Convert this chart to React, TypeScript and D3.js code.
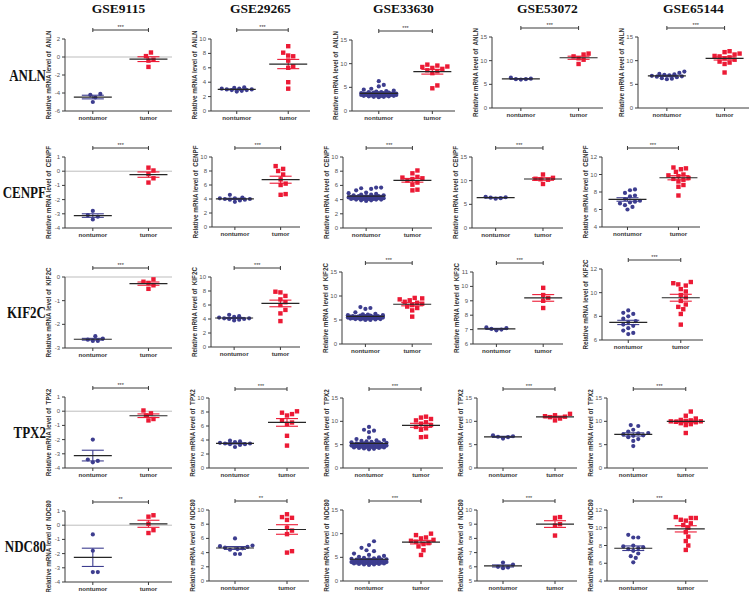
import * as d3 from 'd3';

const DATASETS = ['GSE9115', 'GSE29265', 'GSE33630', 'GSE53072', 'GSE65144'];
const GENES = ['ANLN', 'CENPF', 'KIF2C', 'TPX2', 'NDC80'];
const GROUPS = ['nontumor', 'tumor'];

// y-axis ticks, one list per dataset column, one row per gene
const ANLN_TICKS = [[-6, -4, -2, 0, 2], [0, 2, 4, 6, 8, 10], [0, 5, 10, 15], [0, 5, 10, 15], [0, 5, 10, 15]];
const CENPF_TICKS = [[-4, -3, -2, -1, 0, 1], [0, 2, 4, 6, 8, 10], [0, 2, 4, 6, 8, 10], [0, 5, 10, 15], [4, 6, 8, 10, 12]];
const KIF2C_TICKS = [[-3, -2, -1, 0], [0, 2, 4, 6, 8, 10], [0, 5, 10, 15], [6, 7, 8, 9, 10, 11], [6, 8, 10, 12]];
const TPX2_TICKS = [[-4, -3, -2, -1, 0, 1], [0, 2, 4, 6, 8, 10], [0, 5, 10, 15], [0, 5, 10, 15], [0, 5, 10, 15]];
const NDC80_TICKS = [[-4, -3, -2, -1, 0, 1], [0, 2, 4, 6, 8, 10], [0, 5, 10, 15], [5, 6, 7, 8, 9, 10], [4, 6, 8, 10, 12]];

const SIGNIF = [
  ['***', '***', '***', '***', '***'],
  ['***', '***', '***', '***', '***'],
  ['***', '***', '***', '***', '***'],
  ['***', '***', '***', '***', '***'],
  ['**', '**', '***', '***', '***'],
];

const ANLN_NONTUMOR = [
  [-4.2, -4.1, -4.5, -5.0],
  [3.3, 3.2, 3.1, 3.1, 3.0, 3.0, 2.9, 2.9, 2.8, 2.7],
  [6.3, 5.5, 5.2, 4.7, 4.5, 4.3, 4.2, 4.1, 4.0, 4.0, 3.9, 3.9, 3.8, 3.8, 3.8, 3.7, 3.7, 3.7, 3.6, 3.6, 3.6, 3.6,
    3.5, 3.5, 3.5, 3.5, 3.4, 3.4, 3.4, 3.3, 3.3, 3.3, 3.2, 3.2, 3.2, 3.1, 3.1, 3.0, 3.0, 2.9, 3.6, 3.5, 3.4, 3.7],
  [6.0, 6.1, 6.1, 6.2, 6.4],
  [7.7, 7.4, 7.2, 7.1, 7.0, 6.9, 6.8, 6.7, 6.5, 6.3, 6.2, 6.1, 6.6],
];
const ANLN_TUMOR = [
  [0.5, 0.1, -0.3, -0.4, -1.1],
  [9.0, 8.1, 7.7, 7.6, 7.0, 6.2, 6.0, 4.0, 3.1],
  [9.8, 9.6, 9.4, 9.3, 9.1, 8.9, 8.6, 8.4, 8.0, 5.4, 4.8],
  [11.5, 11.3, 10.9, 10.5, 10.2, 9.3],
  [12.0, 11.8, 11.5, 11.3, 11.0, 10.9, 10.7, 10.5, 10.2, 9.8, 9.6, 9.3, 7.5],
];

const CENPF_NONTUMOR = [
  [-2.8, -3.1, -3.2, -3.4],
  [4.6, 4.2, 4.1, 4.0, 4.0, 3.9, 3.9, 3.8, 3.6, 4.1],
  [5.7, 5.7, 5.6, 5.5, 5.3, 5.0, 4.9, 4.8, 4.7, 4.7, 4.6, 4.6, 4.5, 4.5, 4.5, 4.4, 4.4, 4.4, 4.4, 4.3, 4.3,
    4.3, 4.3, 4.2, 4.2, 4.2, 4.2, 4.1, 4.1, 4.1, 4.0, 4.0, 4.0, 3.9, 3.9, 3.8, 4.3, 4.4, 4.2, 4.1],
  [6.2, 6.3, 6.4, 6.5, 6.6],
  [8.3, 8.2, 7.9, 7.6, 7.5, 7.2, 7.0, 6.9, 6.8, 6.7, 6.5, 6.3, 6.0],
];
const CENPF_TUMOR = [
  [0.25, 0.05, -0.2, -0.5, -0.8],
  [8.7, 8.3, 8.0, 7.5, 6.8, 6.2, 6.0, 4.7, 4.6],
  [8.1, 7.7, 7.2, 7.1, 7.0, 6.9, 6.7, 6.4, 6.1, 5.4, 5.3],
  [11.3, 10.6, 10.4, 10.3, 10.2, 9.3],
  [10.8, 10.7, 10.6, 10.3, 10.0, 9.9, 9.8, 9.6, 9.5, 9.4, 9.2, 8.8, 8.6, 7.6],
];

const KIF2C_NONTUMOR = [
  [-2.5, -2.6, -2.65, -2.7, -2.7],
  [4.6, 4.4, 4.3, 4.2, 4.1, 4.0, 4.0, 3.9, 3.8, 4.1],
  [7.7, 7.5, 7.3, 6.6, 6.3, 6.2, 6.1, 6.0, 6.0, 5.9, 5.9, 5.8, 5.8, 5.8, 5.7, 5.7, 5.7, 5.6, 5.6, 5.6, 5.6,
    5.5, 5.5, 5.5, 5.5, 5.4, 5.4, 5.4, 5.3, 5.3, 5.3, 5.2, 5.2, 5.1, 5.1, 5.0, 5.0, 5.6, 5.5, 5.4],
  [7.0, 7.05, 7.1, 7.15, 6.95],
  [8.5, 8.3, 8.2, 8.0, 7.8, 7.6, 7.5, 7.3, 7.2, 7.0, 6.8, 6.6, 6.5],
];
const KIF2C_TUMOR = [
  [-0.1, -0.2, -0.25, -0.35, -0.5],
  [7.9, 7.8, 7.3, 6.8, 6.4, 6.0, 5.3, 4.8, 3.7],
  [9.6, 9.5, 9.3, 9.1, 8.8, 8.6, 8.4, 8.1, 7.8, 7.5, 7.0, 5.7],
  [9.9, 9.4, 9.2, 9.0, 8.5],
  [10.9, 10.8, 10.7, 10.6, 10.3, 10.1, 9.8, 9.6, 9.3, 9.0, 8.8, 8.6, 8.2, 7.3],
];

const TPX2_NONTUMOR = [
  [-2.0, -3.4, -3.5, -3.6],
  [3.9, 3.8, 3.7, 3.6, 3.5, 3.5, 3.4, 3.4, 3.3, 3.0],
  [8.8, 8.2, 8.0, 7.7, 6.5, 6.2, 6.0, 5.9, 5.8, 5.7, 5.6, 5.5, 5.5, 5.4, 5.3, 5.3, 5.2, 5.2, 5.1, 5.1, 5.0,
    5.0, 5.0, 4.9, 4.9, 4.8, 4.8, 4.8, 4.7, 4.7, 4.6, 4.6, 4.5, 4.5, 4.4, 4.4, 4.3, 4.3, 4.2, 4.1, 4.0, 5.0,
    4.9, 4.6, 4.5],
  [6.3, 6.6, 6.7, 6.8, 7.0],
  [9.2, 9.0, 8.2, 7.8, 7.5, 7.4, 7.2, 7.0, 6.9, 6.6, 6.2, 5.8, 4.7],
];
const TPX2_TUMOR = [
  [0.05, -0.15, -0.3, -0.55, -0.65],
  [8.1, 7.9, 7.7, 7.5, 6.8, 6.5, 6.3, 4.6, 3.2],
  [11.0, 10.8, 10.5, 10.2, 9.8, 9.5, 9.2, 8.8, 8.5, 8.2, 6.7, 6.6],
  [11.6, 11.3, 11.1, 11.0, 10.9, 10.6, 10.2],
  [12.1, 11.2, 10.6, 10.3, 10.2, 10.1, 10.0, 10.0, 9.9, 9.8, 9.6, 9.4, 9.2, 7.5],
];

const NDC80_NONTUMOR = [
  [-0.65, -1.8, -3.3, -3.3],
  [6.0, 5.0, 4.9, 4.8, 4.7, 4.6, 4.5, 4.4, 3.8, 3.8],
  [8.4, 7.6, 7.0, 6.5, 6.3, 5.8, 5.5, 5.3, 5.1, 5.0, 4.9, 4.8, 4.7, 4.6, 4.6, 4.5, 4.5, 4.4, 4.4, 4.3, 4.3,
    4.2, 4.2, 4.1, 4.1, 4.0, 4.0, 3.9, 3.9, 3.8, 3.8, 3.8, 3.7, 3.7, 3.6, 3.6, 3.5, 3.5, 3.4, 4.2, 4.0, 3.9, 4.1],
  [6.3, 6.15, 6.0, 5.95, 5.9],
  [9.2, 8.9, 8.9, 8.0, 7.9, 7.8, 7.7, 7.6, 7.4, 7.1, 6.8, 6.6, 6.1],
];
const NDC80_TUMOR = [
  [0.7, 0.6, 0.1, -0.35, -0.55],
  [9.4, 9.0, 8.9, 8.6, 7.5, 7.1, 6.6, 4.2, 4.0],
  [10.0, 9.7, 9.2, 9.0, 8.7, 8.5, 8.3, 8.0, 7.8, 7.3, 6.5, 5.5],
  [9.5, 9.45, 9.0, 8.9, 8.2],
  [11.2, 11.1, 11.1, 10.9, 10.8, 10.5, 10.3, 10.0, 9.5, 9.0, 8.5, 8.0, 7.5],
];

const TICKS = [ANLN_TICKS, CENPF_TICKS, KIF2C_TICKS, TPX2_TICKS, NDC80_TICKS];
const NONTUMOR = [ANLN_NONTUMOR, CENPF_NONTUMOR, KIF2C_NONTUMOR, TPX2_NONTUMOR, NDC80_NONTUMOR];
const TUMOR = [ANLN_TUMOR, CENPF_TUMOR, KIF2C_TUMOR, TPX2_TUMOR, NDC80_TUMOR];

// panel frames: [axis x, plot width, plot top, plot height]
const LAYOUT = [
  [[65, 107, 39, 72], [211, 99, 39, 72], [352, 103, 40, 71], [492, 111, 37, 71], [638, 111, 37, 71]],
  [[65, 107, 157, 71], [212, 88, 157, 70], [343, 89, 157, 71], [472, 91, 157, 71], [602, 98, 157, 70]],
  [[65, 107, 277, 71], [211, 89, 277, 70], [342, 90, 272, 72], [473, 90, 272, 72], [602, 101, 269, 71]],
  [[65, 107, 397, 71], [209, 100, 398, 70], [343, 100, 398, 70], [477, 100, 398, 70], [607, 101, 398, 70]],
  [[65, 107, 511, 71], [209, 100, 510, 71], [343, 100, 510, 71], [477, 100, 510, 71], [607, 101, 510, 71]],
];

const BLUE = '#3d3d8f';
const RED = '#ec1a35';
const AXIS = '#3a3a3a';
const SANS = 'Liberation Sans, Arial, sans-serif';
const SERIF = 'Liberation Serif, Times New Roman, serif';

// beeswarm kept inside +-maxHalf: free slot nearest the centre, else the least crowded one
function swarm(vals: number[], cx: number, y: d3.ScaleLinear<number, number>) {
  const d = 5;
  const step = 2.5;
  const maxHalf = 19;
  const placed: { x: number; y: number }[] = [];
  const sorted = [...vals].sort((a, b) => a - b);
  const kMax = Math.floor(maxHalf / step);
  for (const v of sorted) {
    const py = y(v);
    let best = cx;
    let bestGap = -1;
    for (let i = 0; i <= kMax * 2; i++) {
      const k = Math.ceil(i / 2) * (i % 2 ? 1 : -1);
      const cand = cx + k * step;
      let gap = Infinity;
      for (const p of placed) gap = Math.min(gap, Math.hypot(p.x - cand, p.y - py));
      if (gap >= d) {
        best = cand;
        break;
      }
      if (gap > bestGap + 0.3) {
        bestGap = gap;
        best = cand;
      }
    }
    placed.push({ x: best, y: py });
  }
  return placed;
}

function Group({ vals, cx, y, color, square }: any) {
  const pts = swarm(vals, cx, y);
  const m = d3.mean(vals) as number;
  const sem = (d3.deviation(vals) as number) / Math.sqrt(vals.length);
  return (
    <g>
      {pts.map((p, i) =>
        square ? (
          <rect key={i} x={p.x - 2.2} y={p.y - 2.2} width={4.4} height={4.4} fill={color} />
        ) : (
          <circle key={i} cx={p.x} cy={p.y} r={2.1} fill={color} />
        )
      )}
      <g stroke={color} strokeWidth={1.1}>
        <line x1={cx} x2={cx} y1={y(m - sem)} y2={y(m + sem)} />
        <line x1={cx - 11} x2={cx + 11} y1={y(m - sem)} y2={y(m - sem)} />
        <line x1={cx - 11} x2={cx + 11} y1={y(m + sem)} y2={y(m + sem)} />
      </g>
      <line x1={cx - 19} x2={cx + 19} y1={y(m)} y2={y(m)} stroke="#262626" strokeWidth={1.2} />
    </g>
  );
}

function Panel({ r, c }: { r: number; c: number }) {
  const [x0, w, top, h] = LAYOUT[r][c];
  const ticks = TICKS[r][c];
  const y = d3.scaleLinear().domain([ticks[0], ticks[ticks.length - 1]]).range([top + h, top]);
  const x = d3.scalePoint().domain(GROUPS).range([x0 + 0.26 * w, x0 + 0.78 * w]);
  const xn = x('nontumor') as number;
  const xt = x('tumor') as number;
  const bottom = top + h;
  const by = top - 9;
  return (
    <g>
      {ticks[0] < 0 && <line x1={x0} x2={x0 + w} y1={y(0)} y2={y(0)} stroke="#bdbdbd" strokeWidth={1} />}
      <Group vals={NONTUMOR[r][c]} cx={xn} y={y} color={BLUE} square={false} />
      <Group vals={TUMOR[r][c]} cx={xt} y={y} color={RED} square={true} />
      {/* axes */}
      <g stroke={AXIS} strokeWidth={1}>
        <line x1={x0} x2={x0} y1={top} y2={bottom} />
        <line x1={x0} x2={x0 + w} y1={bottom} y2={bottom} />
        {ticks.map((t) => (
          <line key={t} x1={x0 - 3} x2={x0} y1={y(t)} y2={y(t)} />
        ))}
        {GROUPS.map((g) => (
          <line key={g} x1={x(g)} x2={x(g)} y1={bottom} y2={bottom + 3} />
        ))}
      </g>
      {ticks.map((t) => (
        <text key={t} x={x0 - 5} y={y(t) + 2} textAnchor="end" fontSize={6} fill="#555" fontFamily={SANS}>
          {t}
        </text>
      ))}
      {GROUPS.map((g) => (
        <text key={g} x={x(g)} y={bottom + 8.5} textAnchor="middle" fontSize={6.2} fontWeight="bold" fill="#333" fontFamily={SANS}>
          {g}
        </text>
      ))}
      <text
        transform={`translate(${x0 - 14},${top + h / 2}) rotate(-90)`}
        textAnchor="middle"
        fontSize={6.3}
        fontWeight="bold"
        fill="#333"
        fontFamily={SANS}
        style={{ whiteSpace: 'pre' }}
      >
        {`Relative mRNA level of  ${GENES[r]}`}
      </text>
      {/* significance bracket */}
      <g stroke={AXIS} strokeWidth={1}>
        <line x1={xn} x2={xt} y1={by} y2={by} />
        <line x1={xn} x2={xn} y1={by - 2} y2={by + 2} />
        <line x1={xt} x2={xt} y1={by - 2} y2={by + 2} />
      </g>
      <text x={(xn + xt) / 2} y={by - 1.5} textAnchor="middle" fontSize={5.5} fill="#333" fontFamily={SANS}>
        {SIGNIF[r][c]}
      </text>
    </g>
  );
}

export default function App() {
  return (
    <svg width={753} height={592} style={{ position: 'absolute', left: 0, top: 0, background: '#fff' }}>
      {DATASETS.map((ds, c) => {
        const [x0, w] = LAYOUT[0][c];
        return (
          <text key={ds} x={x0 + w / 2} y={13} textAnchor="middle" fontSize={13.5} fontWeight="bold" fontFamily={SERIF} fill="#111">
            {ds}
          </text>
        );
      })}
      {GENES.map((g, r) => {
        const [, , top, h] = LAYOUT[r][0];
        return (
          <text
            key={g}
            transform={`translate(46,${top + h / 2 + 5.5}) scale(1,1.22)`}
            textAnchor="end"
            fontSize={13}
            fontWeight="bold"
            fontFamily={SERIF}
            fill="#111"
          >
            {g}
          </text>
        );
      })}
      {GENES.map((_, r) => DATASETS.map((__, c) => <Panel key={`${r}-${c}`} r={r} c={c} />))}
    </svg>
  );
}
